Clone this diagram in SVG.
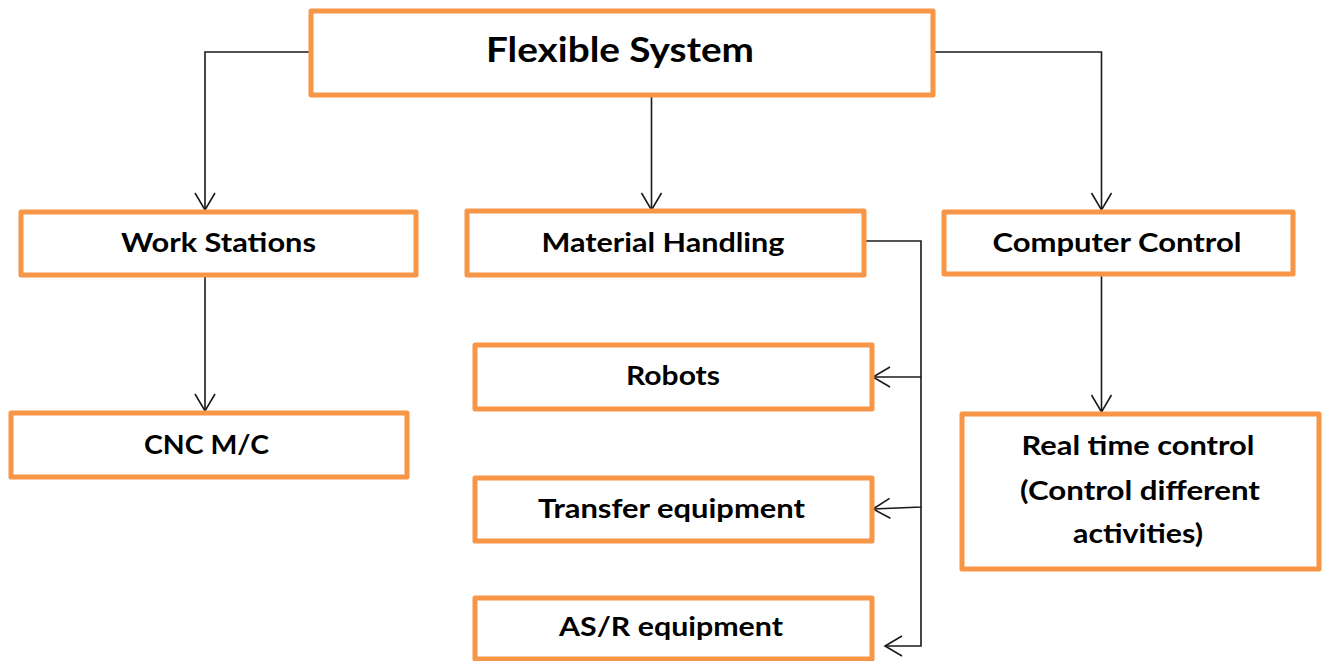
<svg xmlns="http://www.w3.org/2000/svg" width="1327" height="661" viewBox="0 0 1327 661">
<style>
.box{fill:#fff;stroke:#F79646;stroke-width:5;stroke-linejoin:round}
.lbl{font-family:Lato,"Open Sans","Liberation Sans",sans-serif;font-weight:bold;font-size:27px;fill:#000;text-anchor:middle}
.title{font-size:35px}
.con{fill:none;stroke:#1a1a1a;stroke-width:1.6}
</style>
<defs>
<marker id="arr" markerUnits="userSpaceOnUse" markerWidth="24" markerHeight="26" refX="20" refY="12" orient="auto" viewBox="0 0 24 26">
<path d="M3,2 L20,12 L3,22" fill="none" stroke="#1a1a1a" stroke-width="1.6"/>
</marker>
</defs>
<rect width="1327" height="661" fill="#fff"/>
<g id="connectors">
<path class="con" d="M311,52 H205 V210" marker-end="url(#arr)"/>
<path class="con" d="M651.5,95 V210" marker-end="url(#arr)"/>
<path class="con" d="M933,52 H1101.5 V210" marker-end="url(#arr)"/>
<path class="con" d="M205,277 V411" marker-end="url(#arr)"/>
<path class="con" d="M1101.5,276 V412" marker-end="url(#arr)"/>
<path class="con" d="M864,241 H921 V377 H873" marker-end="url(#arr)"/>
<path class="con" d="M921,377 V507 L873,509" marker-end="url(#arr)"/>
<path class="con" d="M921,507 V646 H885" marker-end="url(#arr)"/>
</g>
<g id="flexible-system">
<rect class="box" x="311" y="11" width="622" height="84"/>
<text class="lbl title" x="620" y="62" textLength="268" lengthAdjust="spacingAndGlyphs">Flexible System</text>
</g>
<g id="work-stations">
<rect class="box" x="21" y="212" width="395" height="63"/>
<text class="lbl" x="218.5" y="252" textLength="195" lengthAdjust="spacingAndGlyphs">Work Stations</text>
</g>
<g id="material-handling">
<rect class="box" x="467" y="211" width="397" height="64"/>
<text class="lbl" x="663" y="252" textLength="243" lengthAdjust="spacingAndGlyphs">Material Handling</text>
</g>
<g id="computer-control">
<rect class="box" x="944" y="212" width="349" height="62"/>
<text class="lbl" x="1117" y="252" textLength="249" lengthAdjust="spacingAndGlyphs">Computer Control</text>
</g>
<g id="cnc">
<rect class="box" x="11" y="413" width="396" height="64"/>
<text class="lbl" x="206.5" y="454" textLength="125" lengthAdjust="spacingAndGlyphs">CNC M/C</text>
</g>
<g id="robots">
<rect class="box" x="475" y="345" width="397" height="64"/>
<text class="lbl" x="673" y="385" textLength="94" lengthAdjust="spacingAndGlyphs">Robots</text>
</g>
<g id="transfer-equipment">
<rect class="box" x="475" y="478" width="397" height="63"/>
<text class="lbl" x="671.5" y="518" textLength="267" lengthAdjust="spacingAndGlyphs">Transfer equipment</text>
</g>
<g id="asr-equipment">
<rect class="box" x="475" y="598" width="397" height="61"/>
<text class="lbl" x="671" y="636" textLength="224" lengthAdjust="spacingAndGlyphs">AS/R equipment</text>
</g>
<g id="real-time-control">
<rect class="box" x="962" y="414" width="357" height="155"/>
<text class="lbl" x="1138" y="455" textLength="233" lengthAdjust="spacingAndGlyphs">Real time control</text>
<text class="lbl" x="1140" y="500" textLength="240" lengthAdjust="spacingAndGlyphs">(Control different</text>
<text class="lbl" x="1138" y="543" textLength="130" lengthAdjust="spacingAndGlyphs">activities)</text>
</g>
</svg>
